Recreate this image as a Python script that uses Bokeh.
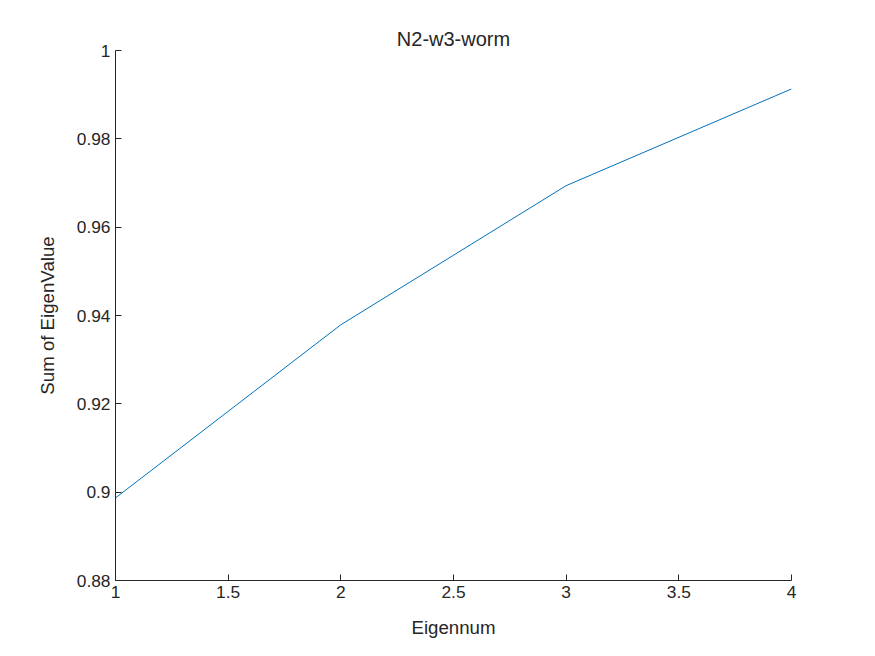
from bokeh.plotting import figure
from bokeh.embed import file_html
from bokeh.resources import INLINE
from bokeh.models import Range1d, FixedTicker

# data
eigennum = [1, 2, 3, 4]
eigen_sum = [0.8987, 0.9379, 0.9694, 0.9913]
x_ticks = [1, 1.5, 2, 2.5, 3, 3.5, 4]
y_ticks = [0.88, 0.9, 0.92, 0.94, 0.96, 0.98, 1.0]

p = figure(width=859, height=640, output_backend="svg", toolbar_location=None,
           title="N2-w3-worm", x_range=Range1d(1, 4), y_range=Range1d(0.88, 1.0),
           min_border_left=115, min_border_right=68, min_border_top=50,
           min_border_bottom=57)

p.line(eigennum, eigen_sum, line_color="#0072BD", line_width=1)

font = "Liberation Sans"
p.title.align = "center"
p.title.text_font = font
p.title.text_font_size = "15pt"
p.title.text_font_style = "normal"
p.title.text_color = "#262626"
p.title.standoff = 2

p.xaxis.axis_label = "Eigennum"
p.yaxis.axis_label = "Sum of EigenValue"
p.xaxis.ticker = FixedTicker(ticks=x_ticks)
p.yaxis.ticker = FixedTicker(ticks=y_ticks)
p.xaxis.major_label_overrides = {1: "1", 1.5: "1.5", 2: "2", 2.5: "2.5", 3: "3", 3.5: "3.5", 4: "4"}
p.yaxis.major_label_overrides = {0.88: "0.88", 0.9: "0.9", 0.92: "0.92", 0.94: "0.94",
                                 0.96: "0.96", 0.98: "0.98", 1.0: "1"}
for ax in (p.xaxis, p.yaxis):
    ax.major_tick_in = 6
    ax.major_tick_out = 0
    ax.minor_tick_line_color = None
    ax.axis_line_color = "#262626"
    ax.major_tick_line_color = "#262626"
    ax.major_label_text_font = font
    ax.major_label_text_font_size = "13pt"
    ax.major_label_text_color = "#262626"
    ax.axis_label_text_font = font
    ax.axis_label_text_font_size = "14pt"
    ax.axis_label_text_font_style = "normal"
    ax.axis_label_text_color = "#262626"
p.xaxis.axis_label_standoff = 16
p.yaxis.axis_label_standoff = 16

p.xgrid.grid_line_color = None
p.ygrid.grid_line_color = None
p.outline_line_color = None

open("out.html", "w").write(file_html(p, INLINE))
